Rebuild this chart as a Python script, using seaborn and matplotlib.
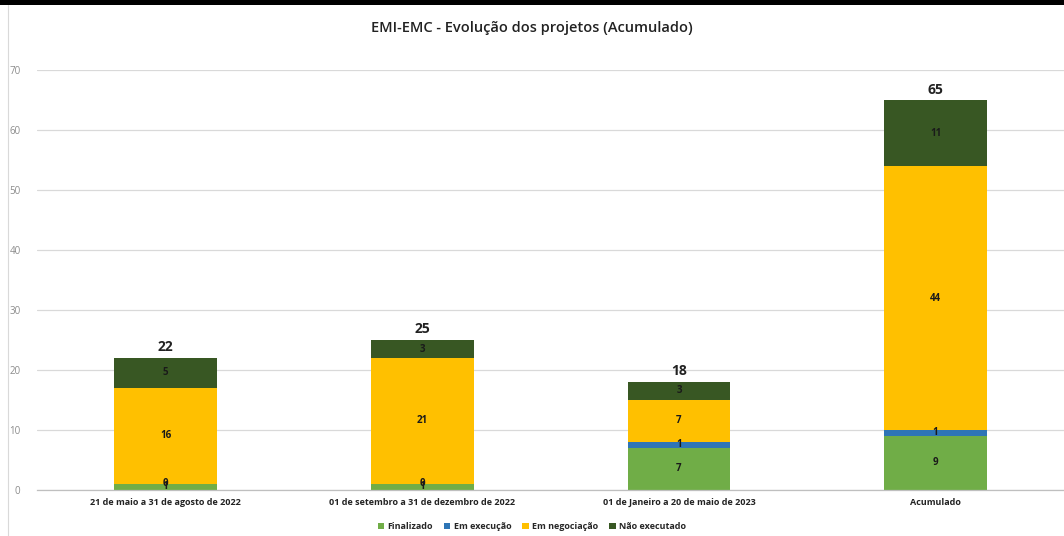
import matplotlib
matplotlib.use("Agg")
import matplotlib.pyplot as plt
import seaborn as sns
import numpy as np
import pandas as pd
from matplotlib.patches import Patch, Rectangle
from matplotlib.lines import Line2D

categories = ["21 de maio a 31 de agosto de 2022",
              "01 de setembro a 31 de dezembro de 2022",
              "01 de Janeiro a 20 de maio de 2023",
              "Acumulado"]
series_names = ["Finalizado", "Em execução", "Em negociação", "Não executado"]
finalizado = [1, 1, 7, 9]
em_execucao = [0, 0, 1, 1]
em_negociacao = [16, 21, 7, 44]
nao_executado = [5, 3, 3, 11]
totals = [22, 25, 18, 65]
colors = ["#70AD47", "#2E75B6", "#FFC000", "#385723"]
title = "EMI-EMC - Evolução dos projetos (Acumulado)"
yticks = [0, 10, 20, 30, 40, 50, 60, 70]

sns.set_theme(style="white")
plt.rcParams['font.family'] = ['Open Sans', 'DejaVu Sans']

values = [finalizado, em_execucao, em_negociacao, nao_executado]
cum = np.cumsum(np.array(values), axis=0)

fig = plt.figure(figsize=(10.64, 5.36), dpi=100)
ax = fig.add_axes([0.035, 0.086, 0.965, 0.783])

for k in range(len(series_names) - 1, -1, -1):
    df = pd.DataFrame({"cat": categories, "val": cum[k]})
    sns.barplot(data=df, x="cat", y="val", color=colors[k], width=0.4,
                saturation=1, ax=ax, order=categories, linewidth=0,
                edgecolor="none")

for k in range(len(series_names)):
    for i in range(len(categories)):
        v = values[k][i]
        y = cum[k][i] - v / 2
        ax.text(i, y, str(v), ha="center", va="center", fontsize=7,
                fontweight="bold", color="#1a1a1a", zorder=5)

for i, t in enumerate(totals):
    ax.text(i, t + 0.6, str(t), ha="center", va="bottom", fontsize=10,
            fontweight="bold", color="#222222")

ax.set_ylim(0, 70)
ax.set_xlim(-0.5, 3.5)
ax.set_yticks(yticks)
ax.set_yticklabels([str(t) for t in yticks], fontsize=7, color="#8c8c8c")
ax.set_xticks(range(len(categories)))
ax.set_xticklabels(categories, fontsize=6.5, fontweight="bold", color="#222222")
ax.tick_params(axis="x", length=0, pad=6)
ax.tick_params(axis="y", length=0, pad=12)
ax.set_xlabel("")
ax.set_ylabel("")
ax.yaxis.grid(True, color="#d9d9d9", linewidth=0.9)
ax.set_axisbelow(True)
for s in ["top", "right", "left"]:
    ax.spines[s].set_visible(False)
ax.spines["bottom"].set_color("#bfbfbf")
ax.spines["bottom"].set_linewidth(0.9)

fig.text(0.5, 0.948, title, ha="center", va="center", fontsize=10.5,
         fontweight="semibold", color="#222222")

handles = [Patch(facecolor=c, edgecolor="none", label=n) for c, n in zip(colors, series_names)]
fig.legend(handles=handles, loc="center", bbox_to_anchor=(0.5, 0.017), ncol=4,
           frameon=False, handlelength=0.7, handleheight=0.7,
           handletextpad=0.4, columnspacing=1.2, prop={"weight": "bold", "size": 6.5})

# decorative frame elements
fig.add_artist(Rectangle((0, 0.99), 1, 0.01, transform=fig.transFigure,
                         facecolor="black", edgecolor="none"))
fig.add_artist(Line2D([0.0075, 0.0075], [0, 0.99], transform=fig.transFigure,
                      color="#d9d9d9", linewidth=0.8))

fig.savefig("out.png", dpi=100)
